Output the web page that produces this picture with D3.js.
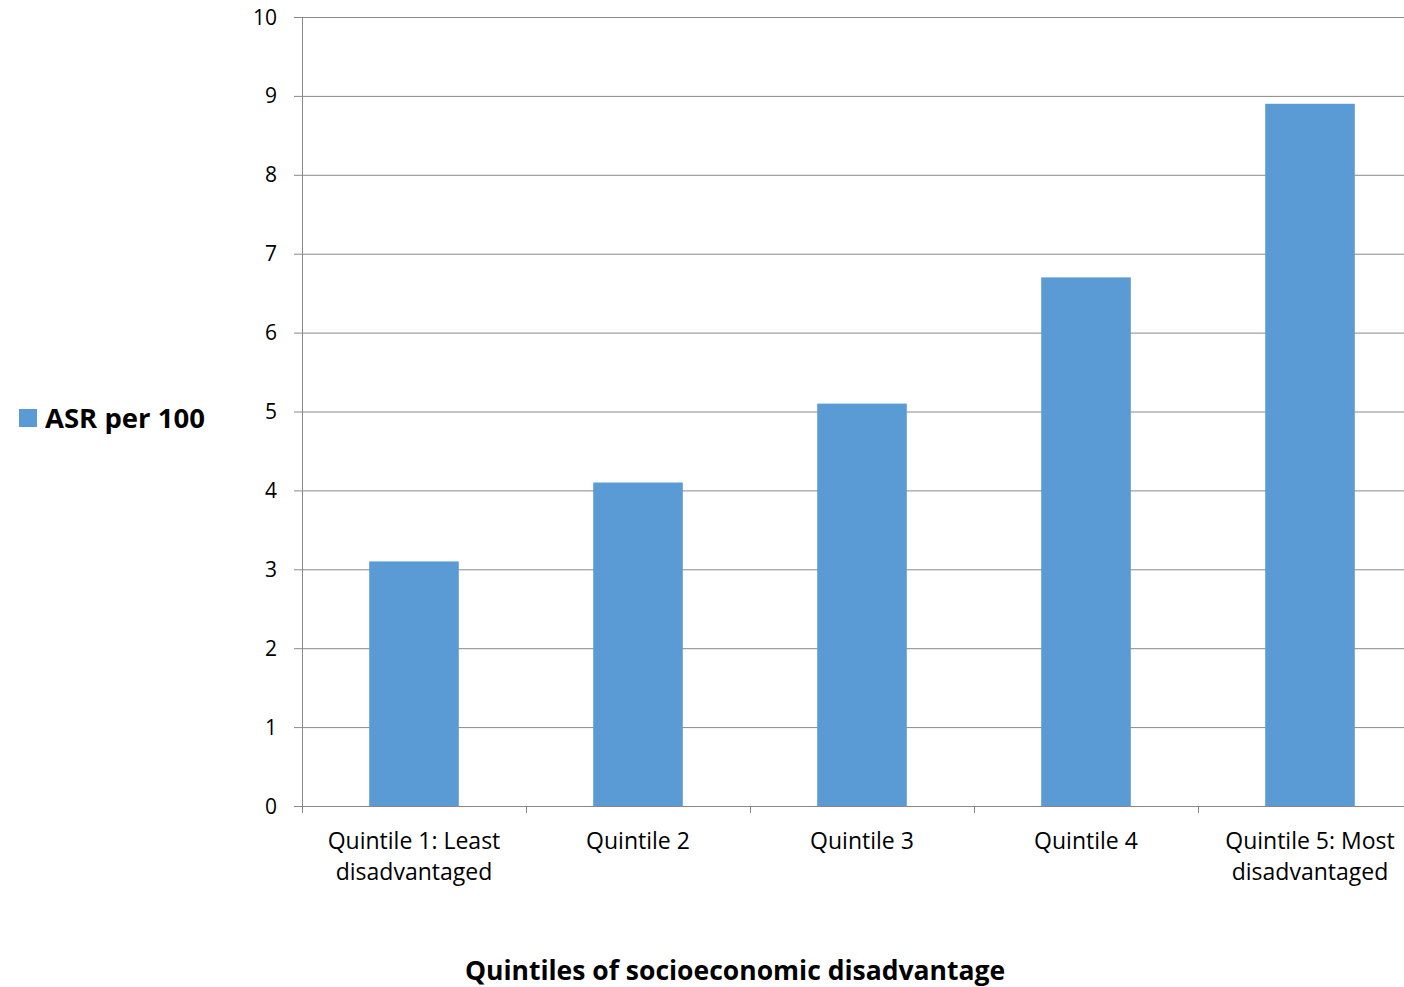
<!DOCTYPE html>
<html>
<head>
<meta charset="utf-8">
<script src="https://cdn.jsdelivr.net/npm/d3@7"></script>
<style>
  body { margin: 0; background: #fff; }
  text { font-family: "Open Sans", sans-serif; fill: #000; }
</style>
</head>
<body>
<div id="chart"></div>
<script>
var categories = [
  ["Quintile 1: Least", "disadvantaged"],
  ["Quintile 2"],
  ["Quintile 3"],
  ["Quintile 4"],
  ["Quintile 5: Most", "disadvantaged"]
];
var values = [3.1, 4.1, 5.1, 6.7, 8.9];
var yTicks = [0, 1, 2, 3, 4, 5, 6, 7, 8, 9, 10];
var seriesName = "ASR per 100";
var xTitle = "Quintiles of socioeconomic disadvantage";

var svgWidth = 1404;
var svgHeight = 987;
var margin = { top: 17, left: 302 };
var chartWidth = 224 * 5;
var chartHeight = 789;

var svg = d3.select("#chart").append("svg")
  .attr("width", svgWidth)
  .attr("height", svgHeight);

var chartGroup = svg.append("g")
  .attr("transform", `translate(${margin.left}, ${margin.top})`);

var x = d3.scaleBand()
  .domain(d3.range(categories.length))
  .range([0, chartWidth])
  .paddingInner(0.6)
  .paddingOuter(0.3);

var y = d3.scaleLinear().domain([0, 10]).range([chartHeight, 0]);

// gridlines
chartGroup.selectAll(".grid")
  .data(yTicks)
  .enter()
  .append("line")
  .attr("x1", -8)
  .attr("x2", chartWidth)
  .attr("y1", d => y(d) + 0.5)
  .attr("y2", d => y(d) + 0.5)
  .attr("stroke", "#898989")
  .attr("stroke-width", 1);

// bars
chartGroup.selectAll("rect")
  .data(values)
  .enter()
  .append("rect")
  .attr("x", (d, i) => x(i))
  .attr("y", d => y(d))
  .attr("width", x.bandwidth())
  .attr("height", d => chartHeight - y(d))
  .attr("fill", "#5B9BD5");

// y axis line
chartGroup.append("line")
  .attr("x1", 0.5).attr("x2", 0.5)
  .attr("y1", 0).attr("y2", chartHeight + 7)
  .attr("stroke", "#898989");

// baseline + category ticks
chartGroup.append("line")
  .attr("x1", 0).attr("x2", chartWidth)
  .attr("y1", chartHeight + 0.5).attr("y2", chartHeight + 0.5)
  .attr("stroke", "#898989");

chartGroup.selectAll(".ctick")
  .data(d3.range(categories.length + 1))
  .enter()
  .append("line")
  .attr("x1", d => d * x.step() + 0.5)
  .attr("x2", d => d * x.step() + 0.5)
  .attr("y1", chartHeight)
  .attr("y2", chartHeight + 7)
  .attr("stroke", "#898989");

// y tick labels
chartGroup.selectAll(".ylabel")
  .data(yTicks)
  .enter()
  .append("text")
  .attr("x", -25)
  .attr("y", d => y(d))
  .attr("dy", "0.36em")
  .attr("text-anchor", "end")
  .style("font-size", "21px")
  .text(d => d);

// category labels
var catLabels = chartGroup.selectAll(".clabel")
  .data(categories)
  .enter()
  .append("text")
  .attr("x", (d, i) => x(i) + x.bandwidth() / 2)
  .attr("y", chartHeight + 43)
  .attr("text-anchor", "middle")
  .style("font-size", "23px");

catLabels.selectAll("tspan")
  .data(d => d)
  .enter()
  .append("tspan")
  .attr("x", function() { return d3.select(this.parentNode).attr("x"); })
  .attr("dy", (d, i) => i === 0 ? 0 : 31)
  .text(d => d);

// x axis title
svg.append("text")
  .attr("x", 735)
  .attr("y", 980)
  .attr("text-anchor", "middle")
  .style("font-size", "26.5px")
  .style("font-weight", "bold")
  .text(xTitle);

// legend
svg.append("rect")
  .attr("x", 19).attr("y", 409)
  .attr("width", 18).attr("height", 18)
  .attr("fill", "#5B9BD5");

svg.append("text")
  .attr("x", 45)
  .attr("y", 428)
  .style("font-size", "27.5px")
  .style("font-weight", "bold")
  .text(seriesName);
</script>
</body>
</html>
